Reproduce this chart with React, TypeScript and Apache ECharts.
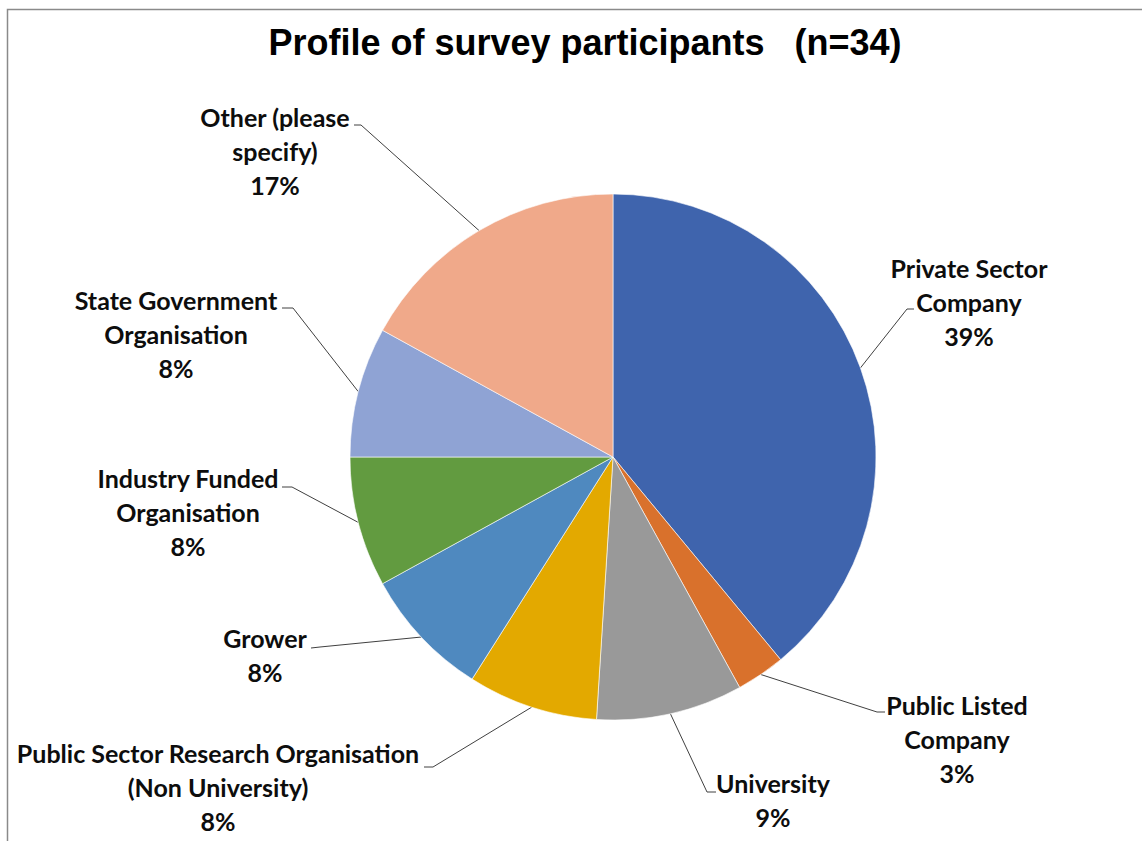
import React, { useEffect, useRef } from "react";
import * as echarts from "echarts";

const categories = [
  "Private Sector\nCompany",
  "Public Listed\nCompany",
  "University",
  "Public Sector Research Organisation\n(Non University)",
  "Grower",
  "Industry Funded\nOrganisation",
  "State Government\nOrganisation",
  "Other (please\nspecify)",
];
const percents = [39, 3, 9, 8, 8, 8, 8, 17];
const colors = ["#3f64ad", "#d9712c", "#999999", "#e3a900", "#4f89bf", "#629b40", "#8fa3d4", "#f0a98a"];

// label layout: text-block centre, bend point, and line end (near the label)
const labelLayoutCfg = [
  { x: 969, y: 302, bend: [907, 309], end: [914, 309] },
  { x: 957, y: 739, bend: [877, 712], end: [885, 712] },
  { x: 773, y: 800, bend: [707, 792], end: [716, 792] },
  { x: 218, y: 787, bend: [433, 767], end: [424, 767] },
  { x: 265, y: 655, bend: [320, 647], end: [311, 648] },
  { x: 188, y: 512, bend: [292, 487], end: [282, 487] },
  { x: 176, y: 334, bend: [293, 308], end: [282, 308] },
  { x: 275, y: 151, bend: [361, 125], end: [354, 125] },
];

const CX = 613;
const CY = 457;
const R = 263;

export default function App() {
  const ref = useRef<HTMLDivElement>(null);
  useEffect(() => {
    if (!ref.current) return;
    const chart = echarts.init(ref.current, undefined, { renderer: "svg" });
    const total = percents.reduce((a, b) => a + b, 0);
    const cum: number[] = [];
    let acc = 0;
    percents.forEach((v) => {
      cum.push(acc + v / 2);
      acc += v;
    });
    chart.setOption({
      animation: false,
      backgroundColor: "#ffffff",
      title: {
        text: "Profile of survey participants   (n=34)",
        left: 580,
        top: 19,
        textAlign: "center",
        textStyle: {
          fontFamily: "Liberation Sans",
          fontWeight: "bold",
          fontSize: 36,
          color: "#000000",
        },
      },
      graphic: [
        {
          type: "rect",
          shape: { x: 7.5, y: 9.5, width: 1300, height: 1000 },
          style: { fill: "none", stroke: "#8a8a8a", lineWidth: 1.5 },
          silent: true,
        },
      ],
      series: [
        {
          type: "pie",
          center: [CX, CY],
          radius: R,
          startAngle: 90,
          clockwise: true,
          avoidLabelOverlap: false,
          itemStyle: { borderColor: "#ffffff", borderWidth: 0.6 },
          label: {
            show: true,
            formatter: (p: any) => `${p.name}\n${p.value}%`,
            fontFamily: "Lato",
            fontWeight: "bold",
            fontSize: 25,
            lineHeight: 34,
            color: "#0d0d0d",
            align: "center",
          },
          labelLine: {
            show: true,
            lineStyle: { color: "#404040", width: 1 },
          },
          labelLayout: (params: any) => {
            const i = params.dataIndex;
            const cfg = labelLayoutCfg[i];
            const ang = (cum[i] / total) * Math.PI * 2;
            const start = [CX + R * Math.sin(ang), CY - R * Math.cos(ang)];
            return {
              x: cfg.x,
              y: cfg.y,
              align: "center",
              verticalAlign: "middle",
              hideOverlap: false,
              labelLinePoints: [start, cfg.bend, cfg.end],
            };
          },
          data: categories.map((name, i) => ({
            name,
            value: percents[i],
            itemStyle: { color: colors[i] },
          })),
        },
      ],
    });
    return () => chart.dispose();
  }, []);
  return (
    <div
      ref={ref}
      style={{ position: "absolute", left: 0, top: 0, width: 1142, height: 841 }}
    />
  );
}
